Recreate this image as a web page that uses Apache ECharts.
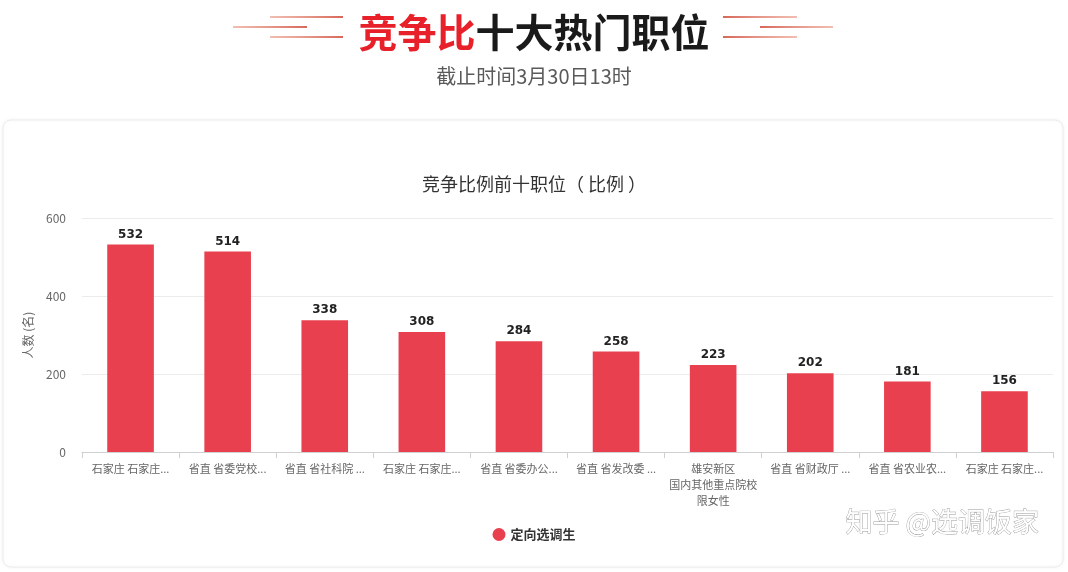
<!DOCTYPE html>
<html>
<head>
<meta charset="utf-8">
<script src="https://cdn.jsdelivr.net/npm/echarts@6/dist/echarts.min.js"></script>
<style>
html,body{margin:0;padding:0;background:#fff;}
#chart{width:1068px;height:572px;}
</style>
</head>
<body>
<div id="chart"></div>
<script>
var categories = [
  '石家庄 石家庄...',
  '省直 省委党校...',
  '省直 省社科院 ...',
  '石家庄 石家庄...',
  '省直 省委办公...',
  '省直 省发改委 ...',
  '雄安新区\n国内其他重点院校\n限女性',
  '省直 省财政厅 ...',
  '省直 省农业农...',
  '石家庄 石家庄...'
];
var values = [532, 514, 338, 308, 284, 258, 223, 202, 181, 156];
var yTicks = [0, 200, 400, 600];
var seriesName = '定向选调生';

var FONT = '"Noto Sans CJK SC", "Noto Sans", sans-serif';
var chart = echarts.init(document.getElementById('chart'));

function lineGrad(reverse) {
  var a = 'rgba(232,150,130,0.6)', b = 'rgba(214,100,85,1)';
  return new echarts.graphic.LinearGradient(0, 0, 1, 0, [
    {offset: 0, color: reverse ? b : a},
    {offset: 1, color: reverse ? a : b}
  ]);
}
function hline(x1, x2, y, reverse) {
  return {
    type: 'line', z: 1,
    shape: {x1: x1, y1: y, x2: x2, y2: y},
    style: {stroke: lineGrad(reverse), lineWidth: 2.2}
  };
}

chart.setOption({
  animation: false,
  textStyle: {fontFamily: FONT},
  graphic: [
    {
      type: 'rect', z: 0,
      shape: {x: 3, y: 120, width: 1060, height: 447, r: 8},
      style: {fill: '#fff', stroke: '#ececec', lineWidth: 1,
              shadowBlur: 4, shadowColor: 'rgba(0,0,0,0.06)'}
    },
    hline(270, 343, 17, false),
    hline(233, 307, 27, false),
    hline(270, 343, 37, false),
    hline(723, 797, 17, true),
    hline(760, 833, 27, true),
    hline(723, 797, 37, true),
    {
      type: 'text', z: 5,
      left: 845, top: 508,
      style: {
        text: '知乎 @选调饭家',
        font: '27px ' + FONT,
        fill: '#fff',
        stroke: '#999', lineWidth: 0.8,
        shadowColor: 'rgba(0,0,0,0.6)', shadowBlur: 2, shadowOffsetX: 2, shadowOffsetY: 2
      }
    }
  ],
  title: [
    {
      text: '{r|竞争比}{b|十大热门职位}',
      left: 'center', top: 8,
      textStyle: {
        rich: {
          r: {color: '#e8202a', fontSize: 39, fontWeight: 'bold', fontFamily: FONT},
          b: {color: '#1a1a1a', fontSize: 39, fontWeight: 'bold', fontFamily: FONT}
        }
      }
    },
    {
      text: '截止时间3月30日13时',
      left: 'center', top: 61,
      textStyle: {color: '#5a5a5a', fontSize: 20, fontWeight: 'normal', fontFamily: FONT}
    },
    {
      text: '竞争比例前十职位（ 比例 ）',
      left: 'center', top: 170,
      textStyle: {color: '#333', fontSize: 18, fontWeight: 'normal', fontFamily: FONT}
    }
  ],
  legend: {
    bottom: 26,
    left: 'center',
    icon: 'circle',
    itemWidth: 13,
    itemHeight: 13,
    itemGap: 8,
    textStyle: {color: '#333', fontSize: 13, fontWeight: 'bold', fontFamily: FONT},
    data: [seriesName]
  },
  grid: {left: 82, right: 15, top: 218, bottom: 120},
  xAxis: {
    type: 'category',
    data: categories,
    axisLine: {lineStyle: {color: '#d0d0d0'}},
    axisTick: {show: true, length: 6, lineStyle: {color: '#d0d0d0'}},
    axisLabel: {color: '#666', fontSize: 11, interval: 0, margin: 9, lineHeight: 16, fontFamily: FONT}
  },
  yAxis: {
    type: 'value',
    min: yTicks[0],
    max: yTicks[yTicks.length - 1],
    interval: yTicks[1] - yTicks[0],
    name: '人数 (名)',
    nameLocation: 'middle',
    nameGap: 48,
    nameTextStyle: {color: '#666', fontSize: 12, fontFamily: FONT},
    axisLine: {show: false},
    axisTick: {show: false},
    axisLabel: {color: '#666', fontSize: 12, margin: 16, fontFamily: FONT},
    splitLine: {lineStyle: {color: '#ececec'}}
  },
  series: [{
    name: seriesName,
    type: 'bar',
    data: values,
    barWidth: '48%',
    itemStyle: {color: '#e8404f'},
    label: {
      show: true, position: 'top', distance: 4,
      color: '#222', fontSize: 12, fontWeight: 'bold',
      fontFamily: '"DejaVu Sans", sans-serif'
    }
  }]
});
</script>
</body>
</html>
